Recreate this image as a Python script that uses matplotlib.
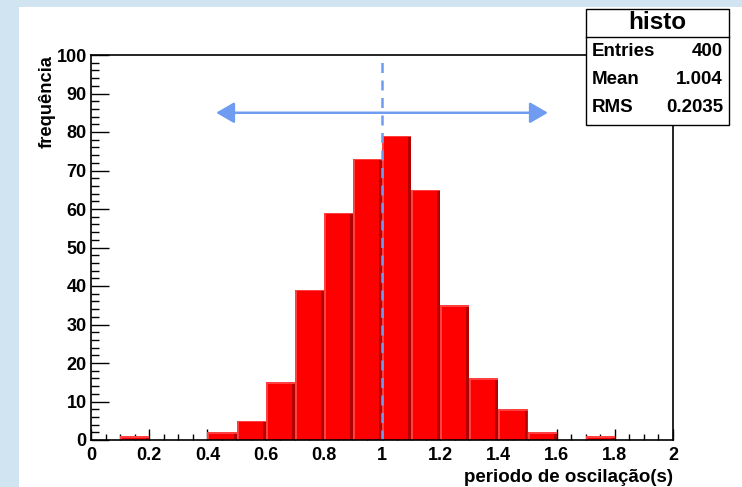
import matplotlib
matplotlib.use("Agg")
import matplotlib.pyplot as plt
from matplotlib.patches import Rectangle, FancyArrowPatch
from matplotlib.ticker import MultipleLocator
import numpy as np

plt.rcParams['font.family'] = ['Liberation Sans', 'DejaVu Sans']
plt.rcParams['font.weight'] = 'bold'

# ---- data ----
bin_left = [0.1, 0.4, 0.5, 0.6, 0.7, 0.8, 0.9, 1.0, 1.1, 1.2, 1.3, 1.4, 1.5, 1.7]
counts = [1, 2, 5, 15, 39, 59, 73, 79, 65, 35, 16, 8, 2, 1]
bin_width = 0.1
x_ticks = [0, 0.2, 0.4, 0.6, 0.8, 1.0, 1.2, 1.4, 1.6, 1.8, 2.0]
x_tick_labels = ["0", "0.2", "0.4", "0.6", "0.8", "1", "1.2", "1.4", "1.6", "1.8", "2"]
y_ticks = [0, 10, 20, 30, 40, 50, 60, 70, 80, 90, 100]
stats_title = "histo"
stats_names = ["Entries", "Mean", "RMS"]
stats_values = ["400", "1.004", "0.2035"]
mean_line_x = 1.0
arrow_y = 85
arrow_x0, arrow_x1 = 0.43, 1.57

W, H = 742, 487
fig = plt.figure(figsize=(W / 100, H / 100), dpi=100)
fig.patch.set_facecolor('#d0e4f2')
# white canvas
fig.patches.append(Rectangle((19 / W, 0), 1 - 19 / W, 1 - 7 / H, transform=fig.transFigure,
                             facecolor='white', edgecolor='none', zorder=-5))

ax = fig.add_axes([91 / W, (H - 440) / H, (673 - 91) / W, (440 - 55) / H])
ax.set_zorder(1)
ax.set_xlim(0, 2)
ax.set_ylim(0, 100)
ax.set_facecolor('white')

red = '#ff0000'
light = '#ff4040'
dark = '#b00000'
bl = np.array(bin_left)
c = np.array(counts)
ax.bar(bl, c, width=bin_width, align='edge', color=red, edgecolor='none', zorder=2)
ax.bar(bl, c, width=0.007, align='edge', color=light, edgecolor='none', zorder=3)
ax.bar(bl + bin_width - 0.010, c, width=0.010, align='edge', color=dark, edgecolor='none', zorder=3)
# top light edge
ax.bar(bl, np.minimum(c, 0.4), bottom=c - np.minimum(c, 0.4), width=bin_width, align='edge',
       color=light, edgecolor='none', zorder=3)

blue = '#6f9cf0'
ax.plot([mean_line_x, mean_line_x], [0, 100], color=blue, lw=1.8, dashes=(4, 3), zorder=4,
        clip_on=False)
arr = FancyArrowPatch((arrow_x0, arrow_y), (arrow_x1, arrow_y),
                      arrowstyle='<|-|>,head_length=0.55,head_width=0.32',
                      mutation_scale=20, color=blue, lw=1.8, zorder=5, shrinkA=0, shrinkB=0)
ax.add_patch(arr)

for s in ['left', 'bottom', 'top', 'right']:
    ax.spines[s].set_linewidth(1.2)
    ax.spines[s].set_color('black')
    ax.spines[s].set_zorder(6)

ax.set_xticks(x_ticks)
ax.set_xticklabels(x_tick_labels)
ax.set_yticks(y_ticks)
ax.xaxis.set_minor_locator(MultipleLocator(0.05))
ax.yaxis.set_minor_locator(MultipleLocator(2))
ax.tick_params(axis='x', which='major', direction='in', length=8, width=1, pad=5,
               labelsize=13, top=False)
ax.tick_params(axis='x', which='minor', direction='in', length=4.3, width=1, top=False)
ax.tick_params(axis='y', which='major', direction='in', length=13, width=1, pad=3,
               labelsize=13, right=False)
ax.tick_params(axis='y', which='minor', direction='in', length=6, width=1, right=False)
for lab in ax.get_xticklabels() + ax.get_yticklabels():
    lab.set_fontweight('bold')

fig.text(673 / W, 1 - 478 / H, "periodo de oscilação(s)", ha='right', va='center',
         fontsize=13.5, fontweight='bold')
fig.text(47 / W, 1 - 55 / H, "frequência", ha='center', va='top', rotation=90,
         fontsize=13.2, fontweight='bold')

# stats box
bx0, bx1, by0, by1, bsep = 586, 729, 9, 125, 37
fig.patches.append(Rectangle((bx0 / W, 1 - by1 / H), (bx1 - bx0) / W, (by1 - by0) / H,
                             transform=fig.transFigure, facecolor='white', edgecolor='black',
                             lw=1.0, zorder=10))
fig.lines.append(plt.Line2D([bx0 / W, bx1 / W], [1 - bsep / H, 1 - bsep / H],
                            transform=fig.transFigure, color='black', lw=1.0, zorder=11))
fig.text((bx0 + bx1) / 2 / W, 1 - 22.5 / H, stats_title, ha='center', va='center',
         fontsize=17.5, fontweight='bold', zorder=12)
row_y = [52, 80, 108]
for name, val, yy in zip(stats_names, stats_values, row_y):
    fig.text(592 / W, 1 - yy / H, name, ha='left', va='center', fontsize=13.5,
             fontweight='bold', zorder=12)
    fig.text(723 / W, 1 - yy / H, val, ha='right', va='center', fontsize=13.5,
             fontweight='bold', zorder=12)

fig.savefig('out.png', dpi=100)
